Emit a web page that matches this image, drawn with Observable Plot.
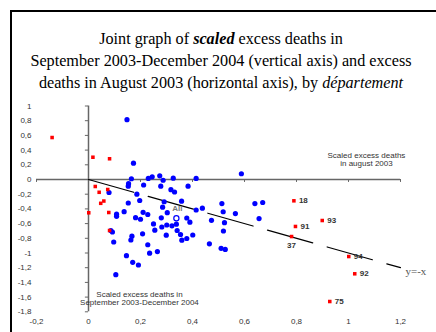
<!DOCTYPE html>
<html>
<head>
<meta charset="utf-8">
<script src="https://cdn.jsdelivr.net/npm/d3@7"></script>
<script src="https://cdn.jsdelivr.net/npm/@observablehq/plot@0.6"></script>
<style>
  body { margin: 0; background: #fff; }
  #wrap { position: relative; width: 436px; height: 332px; overflow: hidden; background: #fff; }
  #frame { position: absolute; left: 9.5px; top: 10px; width: 600px; height: 600px;
           border-left: 2px solid #000; border-top: 2px solid #000; pointer-events: none; }
  #title { height: 100px; box-sizing: border-box; padding-top: 28px; padding-left: 6px; text-align: center;
           font-family: "Liberation Serif", "DejaVu Serif", "Times New Roman", serif; font-size: 16.2px;
           line-height: 22px; color: #000; white-space: nowrap; }
  #chart svg { display: block; }
</style>
</head>
<body>
<div id="wrap">
  <div id="title">Joint graph of <b><i>scaled</i></b> excess deaths in<br>September 2003-December 2004 (vertical axis) and excess<br>deaths in August 2003 (horizontal axis), by <i>département</i></div>
  <div id="chart"></div>
  <div id="frame"></div>
</div>
<script>
// Blue points: départements (scaled excess Aug 2003, scaled excess Sep 2003–Dec 2004)
const blueX = [0.148,0.173,0.165,0.230,0.245,0.274,0.287,0.326,0.414,0.588,
  0.154,0.153,0.212,0.278,0.317,0.331,0.383,0.079,0.186,0.197,
  0.153,0.291,0.358,0.285,0.414,0.438,0.513,0.518,0.565,0.640,
  0.670,0.656,0.137,0.108,0.108,0.210,0.228,0.181,0.200,0.303,
  0.280,0.378,0.390,0.473,0.523,0.250,0.282,0.301,0.321,0.338,
  0.341,0.354,0.359,0.378,0.401,0.255,0.208,0.299,0.519,0.465,
  0.510,0.526,0.228,0.265,0.235,0.086,0.092,0.097,0.167,0.163,
  0.146,0.170,0.192,0.105];
const blueY = [0.814,0.222,0.010,0.014,0.037,0.050,-0.010,0.018,0.014,0.078,
  -0.057,-0.091,-0.075,-0.091,-0.139,-0.170,-0.091,-0.177,-0.200,-0.286,
  -0.320,-0.303,-0.295,-0.377,-0.415,-0.390,-0.327,-0.439,-0.463,-0.327,
  -0.313,-0.531,-0.438,-0.472,-0.501,-0.446,-0.476,-0.520,-0.541,-0.452,
  -0.521,-0.524,-0.581,-0.555,-0.588,-0.605,-0.646,-0.619,-0.630,-0.608,
  -0.694,-0.748,-0.826,-0.803,-0.755,-0.690,-0.739,-0.758,-0.701,-0.875,
  -0.936,-0.952,-0.888,-0.980,-1.003,-0.694,-0.714,-0.850,-0.771,-0.823,
  -1.037,-1.127,-1.163,-1.295];

// Red points without labels
const redX = [-0.140,0.017,0.081,0.026,0.041,0.074,0.059,0.047,0.078,0.001,0.081];
const redY = [0.571,0.303,0.282,-0.095,-0.174,-0.136,-0.293,-0.324,-0.449,-0.453,-0.694];

// Red labelled départements
const deptLabels = ["18","91","93","37","94","92","75"];
const deptX = [0.790,0.796,0.899,0.781,1.001,1.024,0.928];
const deptY = [-0.290,-0.639,-0.558,-0.776,-1.048,-1.283,-1.660];

// "All" (France as a whole)
const allLabel = ["All"];
const allX = [0.338];
const allY = [-0.528];

// Reference line y = -x
const diagX = [0, 1.2];

// Axis ticks
const xTicks = [-0.2, 0, 0.2, 0.4, 0.6, 0.8, 1, 1.2];
const yTicks = [-1.8,-1.6,-1.4,-1.2,-1,-0.8,-0.6,-0.4,-0.2,0,0.2,0.4,0.6,0.8,1];

const fmt = d => String(+d.toFixed(1)).replace(".", ",");

const blue = blueX.map((x, i) => ({x, y: blueY[i]}));
const red = redX.map((x, i) => ({x, y: redY[i]}));
const dept = deptLabels.map((label, i) => ({label, x: deptX[i], y: deptY[i]}));
const all = allLabel.map((label, i) => ({label, x: allX[i], y: allY[i]}));

const axisColor = "#666";
const sans = "'Liberation Sans', Arial, sans-serif";

const chart = Plot.plot({
  width: 436,
  height: 232,
  marginLeft: 36,
  marginRight: 36,
  marginTop: 5.5,
  marginBottom: 20.7,
  x: {domain: [-0.2, 1.2]},
  y: {domain: [-1.8, 1]},
  style: {fontFamily: sans, fontSize: "8px", color: "#333", background: "transparent"},
  marks: [
    Plot.axisX(xTicks, {anchor: "bottom", tickSize: 0, tickPadding: 7, tickFormat: fmt, label: null}),
    Plot.axisY(yTicks, {anchor: "left", tickSize: 0, tickPadding: 5, tickFormat: fmt, label: null}),
    // axes crossing at the origin
    Plot.ruleY([0], {x1: -0.2, x2: 1.2, stroke: axisColor, strokeWidth: 1.5}),
    Plot.ruleX([0], {y1: -1.8, y2: 1, stroke: axisColor, strokeWidth: 1.5}),
    Plot.ruleX(xTicks, {x: d => d, y1: 0, y2: -0.04, stroke: axisColor, strokeWidth: 1}),
    Plot.ruleY(yTicks, {y: d => d, x1: -0.012, x2: 0, stroke: axisColor, strokeWidth: 1}),
    // y = -x
    Plot.line(diagX, {x: d => d, y: d => -d, stroke: "#000", strokeWidth: 1.2, strokeDasharray: "47,15"}),
    Plot.text(["y=-x"], {x: 1.219, y: -1.252, textAnchor: "start", fontFamily: "'Liberation Serif', 'Times New Roman', serif", fontSize: 11, fill: "#555"}),
    // points
    Plot.dot(blue, {x: "x", y: "y", r: 2.6, fill: "#0000ff"}),
    Plot.dot(red, {x: "x", y: "y", r: 2, symbol: "square", fill: "#ff0000"}),
    Plot.dot(dept, {x: "x", y: "y", r: 2, symbol: "square", fill: "#ff0000"}),
    Plot.text(dept, {x: "x", y: "y", text: "label", textAnchor: "start", dx: 5,
      fontWeight: "bold", fontSize: 8, fill: "#333", filter: d => d.label !== "37"}),
    Plot.text(dept, {x: "x", y: "y", text: "label", filter: d => d.label === "37", dy: 9,
      fontWeight: "bold", fontSize: 8, fill: "#333"}),
    Plot.dot(all, {x: "x", y: "y", r: 2.6, stroke: "#0000ff", fill: "white", strokeWidth: 1.2}),
    Plot.text(all, {x: "x", y: "y", text: "label", dy: -9.5, dx: 1, fontWeight: "bold", fontSize: 8, fill: "#777"}),
    // axis titles
    Plot.text(["Scaled excess deaths\nin august 2003"], {x: 1.069, y: 0.275, fontSize: 8, fill: "#333", lineHeight: 1.1}),
    Plot.text(["Scaled excess deaths in\nSeptember 2003-December 2004"], {x: 0.196, y: -1.615, fontSize: 8, fill: "#333", lineHeight: 1.1})
  ]
});
document.getElementById("chart").appendChild(chart);
</script>
</body>
</html>
